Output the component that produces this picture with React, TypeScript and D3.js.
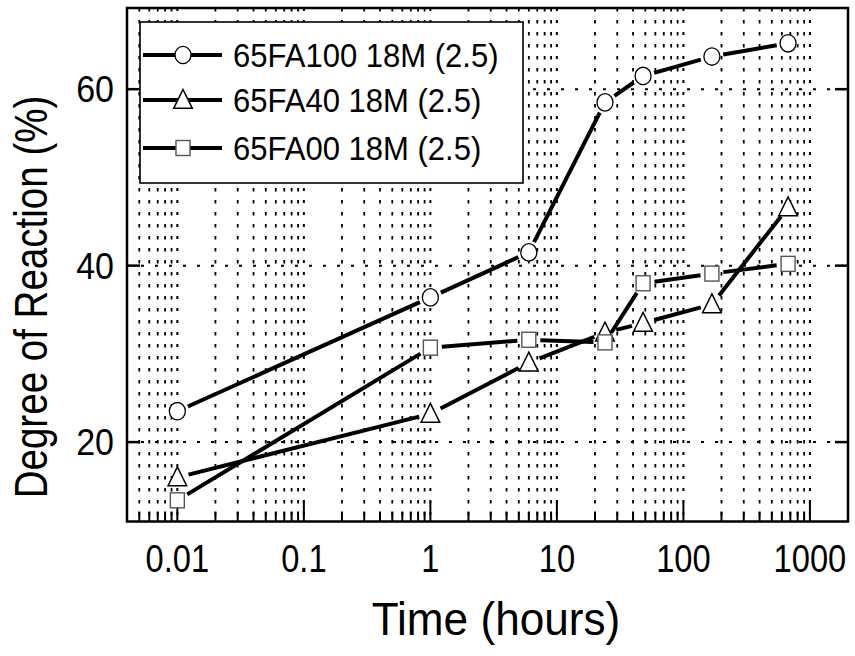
import React from "react";
import * as d3 from "d3";

const times = [0.01, 1, 6, 24, 48, 168, 672];
const fa100 = [23.5, 36.4, 41.5, 58.5, 61.5, 63.7, 65.2];
const fa40 = [16.0, 23.2, 29.0, 32.4, 33.5, 35.6, 46.6];
const fa00 = [13.4, 30.7, 31.6, 31.3, 38.0, 39.1, 40.2];
const seriesNames = ["65FA100 18M (2.5)", "65FA40 18M (2.5)", "65FA00 18M (2.5)"];
const xTickLabels = ["0.01", "0.1", "1", "10", "100", "1000"];
const xTickValues = [0.01, 0.1, 1, 10, 100, 1000];
const yTickValues = [20, 40, 60];

const W = 855, H = 656;
const L = 127, R = 848, T = 8, B = 521.5;
const FONT = "'Liberation Sans', Arial, sans-serif";

function Marker({ kind, x, y }: { kind: string; x: number; y: number }) {
  if (kind === "circle")
    return <ellipse cx={x} cy={y} rx={8} ry={8.7} fill="#fff" stroke="#000" strokeWidth={1.3} />;
  if (kind === "triangle")
    return (
      <polygon
        points={`${x},${y - 10.5} ${x + 9.3},${y + 8.3} ${x - 9.3},${y + 8.3}`}
        fill="#fff"
        stroke="#000"
        strokeWidth={1.5}
      />
    );
  return <rect x={x - 7} y={y - 7.5} width={14} height={15} fill="#fff" stroke="#555" strokeWidth={1.4} />;
}

export default function App() {
  const x = d3.scaleLog().domain([0.004, 2000]).range([L, R]);
  const y = d3.scaleLinear().domain([11, 69.2]).range([B, T]);

  const gridX: number[] = [];
  for (let d = -3; d <= 3; d++) {
    for (let k = 1; k <= 9; k++) {
      const v = k * Math.pow(10, d);
      if (v >= 0.004 && v <= 2000) gridX.push(v);
    }
  }
  const isMajor = (v: number) => Math.abs(Math.log10(v) - Math.round(Math.log10(v))) < 1e-9;

  const series = [
    { name: seriesNames[0], vals: fa100, kind: "circle" },
    { name: seriesNames[1], vals: fa40, kind: "triangle" },
    { name: seriesNames[2], vals: fa00, kind: "square" },
  ];

  const gap = 11.5;
  const segs = (vals: number[]) => {
    const out: { x1: number; y1: number; x2: number; y2: number }[] = [];
    for (let i = 0; i < vals.length - 1; i++) {
      const ax = x(times[i]), ay = y(vals[i]);
      const bx = x(times[i + 1]), by = y(vals[i + 1]);
      const dx = bx - ax, dy = by - ay;
      const len = Math.hypot(dx, dy);
      if (len <= 2 * gap) continue;
      const ux = dx / len, uy = dy / len;
      out.push({ x1: ax + ux * gap, y1: ay + uy * gap, x2: bx - ux * gap, y2: by - uy * gap });
    }
    return out;
  };

  const legendRows = [55, 100, 148];

  return (
    <svg width={W} height={H} style={{ display: "block", position: "absolute", left: 0, top: 0 }}>
      <rect x={0} y={0} width={W} height={H} fill="#fff" />
      {/* vertical grid */}
      {gridX.map((v, i) => (
        <line
          key={"gx" + i}
          x1={x(v)}
          x2={x(v)}
          y1={T}
          y2={B}
          stroke="#000"
          strokeWidth={isMajor(v) ? 2 : 1.8}
          strokeDasharray={isMajor(v) ? "3 9" : "3.5 8.5"}
        />
      ))}
      {/* horizontal grid */}
      {yTickValues.map((v) => (
        <line
          key={"gy" + v}
          x1={L}
          x2={R}
          y1={y(v)}
          y2={y(v)}
          stroke="#000"
          strokeWidth={2}
          strokeDasharray="3 11"
        />
      ))}
      {/* bottom ticks */}
      {gridX.map((v, i) => (
        <line
          key={"tb" + i}
          x1={x(v)}
          x2={x(v)}
          y1={B}
          y2={B - (isMajor(v) ? 20 : 10)}
          stroke="#000"
          strokeWidth={2}
        />
      ))}
      {/* y ticks */}
      {yTickValues.map((v) => (
        <g key={"ty" + v}>
          <line x1={L} x2={L + 13} y1={y(v)} y2={y(v)} stroke="#000" strokeWidth={2.5} />
          <line x1={R} x2={R - 13} y1={y(v)} y2={y(v)} stroke="#000" strokeWidth={2.5} />
        </g>
      ))}
      {/* frame */}
      <rect x={L} y={T} width={R - L} height={B - T} fill="none" stroke="#000" strokeWidth={2.5} />

      {/* data lines */}
      {series.map((s, si) =>
        segs(s.vals).map((g, i) => (
          <line key={"l" + si + "-" + i} {...g} stroke="#000" strokeWidth={4} strokeLinecap="butt" />
        ))
      )}
      {/* markers */}
      {series.map((s, si) =>
        s.vals.map((v, i) => <Marker key={"m" + si + "-" + i} kind={s.kind} x={x(times[i])} y={y(v)} />)
      )}

      {/* legend */}
      <rect x={140} y={22} width={383} height={161} fill="#fff" stroke="#000" strokeWidth={1.6} />
      {series.map((s, i) => (
        <g key={"lg" + i}>
          <line x1={143} x2={222} y1={legendRows[i]} y2={legendRows[i]} stroke="#000" strokeWidth={4} />
          <Marker kind={s.kind} x={183} y={legendRows[i]} />
          <text
            x={0}
            y={0}
            fontFamily={FONT}
            fontSize={33}
            fill="#000"
            transform={`translate(233,${legendRows[i] + 12}) scale(0.94,1)`}
          >
            {s.name}
          </text>
        </g>
      ))}

      {/* x tick labels */}
      {xTickValues.map((v, i) => (
        <text
          key={"xl" + v}
          x={0}
          y={0}
          textAnchor="middle"
          fontFamily={FONT}
          fontSize={38}
          fill="#000"
          transform={`translate(${x(v)},572) scale(0.86,1)`}
        >
          {xTickLabels[i]}
        </text>
      ))}
      {/* y tick labels */}
      {yTickValues.map((v) => (
        <text
          key={"yl" + v}
          x={0}
          y={0}
          textAnchor="end"
          fontFamily={FONT}
          fontSize={37}
          fill="#000"
          transform={`translate(114,${y(v) + 13}) scale(0.92,1)`}
        >
          {v}
        </text>
      ))}
      {/* axis titles */}
      <text
        x={0}
        y={0}
        textAnchor="middle"
        fontFamily={FONT}
        fontSize={46}
        fill="#000"
        transform={`translate(496,635) scale(0.96,1)`}
      >
        Time (hours)
      </text>
      <text
        x={0}
        y={0}
        textAnchor="middle"
        fontFamily={FONT}
        fontSize={47}
        fill="#000"
        transform={`translate(47,297) rotate(-90) scale(0.82,1)`}
      >
        Degree of Reaction (%)
      </text>
    </svg>
  );
}
